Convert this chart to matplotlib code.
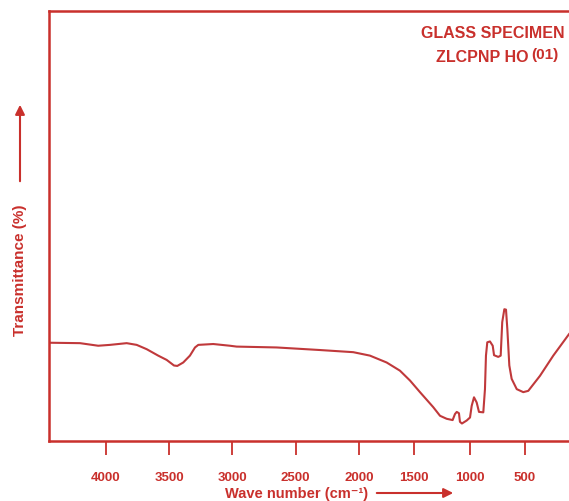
import numpy as np
import matplotlib as mpl
mpl.use('Agg')
import matplotlib.pyplot as plt

# FTIR spectrum (wavenumber in cm-1, transmittance arbitrary %)
wavenumber = [4450, 4205, 4061, 3968, 3836, 3757, 3678, 3587, 3520, 3462, 3436,
              3389, 3336, 3296, 3270, 3152, 3020, 2967, 2651, 2308, 2045, 1901,
              1750, 1630, 1539, 1449, 1329, 1268, 1208, 1154, 1133, 1117, 1097,
              1088, 1070, 1027, 997, 982, 961, 937, 916, 877, 862, 853, 841,
              817, 792, 780, 742, 720, 706, 687, 672, 660, 642, 621, 575, 516,
              471, 365, 245, 103]
transmittance = [22.8, 22.7, 22.1, 22.3, 22.7, 22.3, 21.3, 19.8, 18.8, 17.5, 17.4,
                 18.2, 19.8, 21.7, 22.3, 22.5, 22.1, 21.9, 21.7, 21.1, 20.6, 19.8,
                 18.2, 16.3, 14.0, 11.3, 7.8, 5.8, 5.1, 4.8, 6.2, 6.7, 6.4,
                 4.4, 4.0, 4.7, 5.4, 8.1, 10.1, 8.9, 6.7, 6.6, 12.0, 19.8, 22.9,
                 23.1, 22.1, 19.9, 19.5, 19.8, 27.6, 30.6, 30.5, 26.0, 17.5, 14.4, 12.0, 11.3,
                 11.6, 15.1, 19.8, 24.8]
ticks = [4000, 3500, 3000, 2500, 2000, 1500, 1000, 500]

red = '#c9302c'
line_red = '#c0393b'
K = 1.1427  # scale above 2000 cm-1 is stretched


def fwd(x):
    x = np.asarray(x, dtype=float)
    return np.where(x >= 2000, 2000 + (x - 2000) * K, x)


def inv(y):
    y = np.asarray(y, dtype=float)
    return np.where(y >= 2000, 2000 + (y - 2000) / K, y)


plt.rcParams['font.family'] = ['Liberation Sans', 'DejaVu Sans']
fig = plt.figure(figsize=(5.69, 5.02), dpi=100)
ax = fig.add_axes([49 / 569, 60.3 / 502, 520 / 569, 429.7 / 502])
ax.set_xscale('function', functions=(fwd, inv))
ax.plot(wavenumber, transmittance, color=line_red, lw=1.5)
ax.set_xlim(4450, 103)
ax.set_ylim(0, 100)

for s in ['left', 'bottom', 'top']:
    ax.spines[s].set_color(red)
    ax.spines[s].set_linewidth(1.8)
ax.spines['right'].set_visible(False)
ax.set_yticks([])
ax.set_xticks(ticks)
ax.set_xticklabels([str(t) for t in ticks])
ax.minorticks_off()
ax.tick_params(axis='x', direction='out', length=10, width=1.3, color=red,
               labelcolor=red, labelsize=9.5, pad=12)
for lab in ax.get_xticklabels():
    lab.set_fontweight('bold')

# axis labels with arrows
fig.text(297 / 569, 1 - 494 / 502, 'Wave number (cm⁻¹)', color=red,
         fontsize=10.5, fontweight='bold', ha='center', va='center')
fig.add_artist(mpl.patches.FancyArrowPatch((374 / 569, 1 - 494 / 502), (456 / 569, 1 - 494 / 502),
                                           transform=fig.transFigure, arrowstyle='-|>',
                                           mutation_scale=14, color=red, lw=1.5))
fig.text(20 / 569, 1 - 270 / 502, 'Transmittance (%)', color=red, fontsize=11,
         fontweight='bold', ha='center', va='center', rotation=90)
fig.add_artist(mpl.patches.FancyArrowPatch((20 / 569, 1 - 185 / 502), (20 / 569, 1 - 103 / 502),
                                           transform=fig.transFigure, arrowstyle='-|>',
                                           mutation_scale=14, color=red, lw=1.5))

# specimen label
fig.text(565 / 569, 1 - 34 / 502, 'GLASS SPECIMEN', color=red, fontsize=11.5,
         fontweight='bold', ha='right', va='center')
fig.text(528 / 569, 1 - 57 / 502, 'ZLCPNP HO', color=red, fontsize=11.5,
         fontweight='bold', ha='right', va='center')
fig.text(531 / 569, 1 - 55 / 502, '(01)', color=red, fontsize=11,
         fontweight='bold', ha='left', va='center')

fig.savefig('out.png', dpi=100)
